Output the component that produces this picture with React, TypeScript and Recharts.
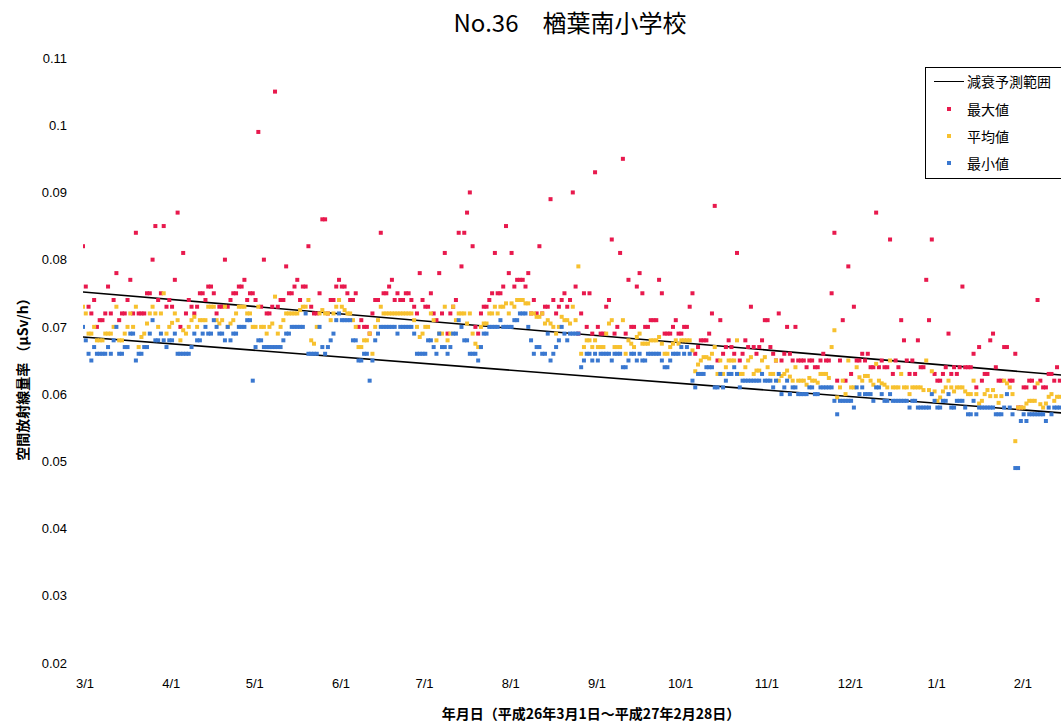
import React from 'react';
import { ScatterChart, Scatter, XAxis, YAxis } from 'recharts';

const titleText = 'No.36\u2003楢葉南小学校';
const xAxisTitle = '年月日（平成26年3月1日～平成27年2月28日）';
const yAxisTitle = '空間放射線量率 （μSv/h）';
const legendNames = ['減衰予測範囲', '最大値', '平均値', '最小値'];

// one value per day, starting 2014-03-01 (day 0)
const maxValues = [
  0.082, 0.076, 0.073, 0.072, 0.074, 0.070, 0.071, 0.071, 0.072, 0.076,
  0.072, 0.074, 0.078, 0.071, 0.072, 0.072, 0.074, 0.077, 0.072, 0.084,
  0.072, 0.072, 0.072, 0.075, 0.075, 0.080, 0.085, 0.074, 0.075, 0.085,
  0.073, 0.074, 0.073, 0.077, 0.087, 0.070, 0.081, 0.072, 0.074, 0.073,
  0.072, 0.073, 0.075, 0.075, 0.074, 0.076, 0.076, 0.075, 0.072, 0.073,
  0.073, 0.080, 0.073, 0.074, 0.075, 0.075, 0.076, 0.076, 0.077, 0.074,
  0.075, 0.075, 0.074, 0.099, 0.073, 0.080, 0.072, 0.072, 0.073, 0.105,
  0.073, 0.074, 0.074, 0.079, 0.075, 0.075, 0.076, 0.077, 0.074, 0.076,
  0.076, 0.082, 0.073, 0.072, 0.072, 0.075, 0.086, 0.086, 0.072, 0.074,
  0.074, 0.076, 0.077, 0.076, 0.076, 0.075, 0.074, 0.074, 0.075, 0.070,
  0.071, 0.070, 0.070, 0.069, 0.072, 0.074, 0.074, 0.084, 0.075, 0.075,
  0.076, 0.077, 0.074, 0.075, 0.074, 0.074, 0.075, 0.075, 0.074, 0.073,
  0.072, 0.078, 0.074, 0.073, 0.073, 0.075, 0.072, 0.071, 0.078, 0.072,
  0.081, 0.069, 0.072, 0.073, 0.074, 0.084, 0.079, 0.084, 0.087, 0.090,
  0.082, 0.070, 0.069, 0.072, 0.073, 0.073, 0.074, 0.075, 0.081, 0.075,
  0.075, 0.076, 0.085, 0.078, 0.081, 0.076, 0.077, 0.077, 0.077, 0.076,
  0.078, 0.072, 0.074, 0.072, 0.082, 0.072, 0.073, 0.073, 0.089, 0.074,
  0.072, 0.073, 0.074, 0.075, 0.073, 0.074, 0.090, 0.076, 0.069, 0.072,
  0.075, 0.070, 0.075, 0.069, 0.093, 0.070, 0.069, 0.069, 0.073, 0.074,
  0.083, 0.069, 0.070, 0.081, 0.095, 0.069, 0.077, 0.070, 0.070, 0.076,
  0.078, 0.075, 0.070, 0.070, 0.071, 0.071, 0.071, 0.077, 0.075, 0.069,
  0.069, 0.069, 0.070, 0.071, 0.069, 0.069, 0.070, 0.070, 0.073, 0.075,
  0.066, 0.067, 0.068, 0.068, 0.068, 0.069, 0.072, 0.088, 0.065, 0.071,
  0.066, 0.067, 0.068, 0.067, 0.066, 0.081, 0.065, 0.066, 0.068, 0.067,
  0.073, 0.067, 0.066, 0.067, 0.068, 0.071, 0.071, 0.067, 0.066, 0.065,
  0.072, 0.065, 0.066, 0.070, 0.066, 0.065, 0.070, 0.065, 0.065, 0.065,
  0.064, 0.065, 0.065, 0.064, 0.064, 0.065, 0.066, 0.065, 0.065, 0.075,
  0.084, 0.062, 0.065, 0.071, 0.062, 0.079, 0.063, 0.073, 0.065, 0.065,
  0.066, 0.065, 0.066, 0.064, 0.064, 0.087, 0.064, 0.065, 0.064, 0.064,
  0.083, 0.063, 0.065, 0.064, 0.071, 0.068, 0.065, 0.063, 0.065, 0.063,
  0.068, 0.064, 0.064, 0.077, 0.071, 0.083, 0.063, 0.062, 0.062, 0.063,
  0.064, 0.069, 0.063, 0.064, 0.063, 0.064, 0.076, 0.064, 0.064, 0.064,
  0.066, 0.061, 0.067, 0.062, 0.063, 0.063, 0.068, 0.069, 0.064, 0.062,
  0.062, 0.067, 0.067, 0.062, 0.062, 0.066, 0.058, 0.058, 0.061, 0.061,
  0.062, 0.062, 0.061, 0.074, 0.062, 0.061, 0.061, 0.063, 0.063, 0.062,
  0.064, 0.062,
];

const avgValues = [
  0.073, 0.072, 0.069, 0.069, 0.070, 0.068, 0.068, 0.068, 0.069, 0.069,
  0.069, 0.070, 0.073, 0.068, 0.068, 0.069, 0.070, 0.072, 0.070, 0.073,
  0.067, 0.0685, 0.069, 0.0705, 0.072, 0.073, 0.072, 0.070, 0.072, 0.075,
  0.069, 0.070, 0.0706, 0.072, 0.071, 0.068, 0.0695, 0.069, 0.070, 0.071,
  0.0715, 0.070, 0.071, 0.071, 0.071, 0.073, 0.073, 0.073, 0.071, 0.0705,
  0.071, 0.073, 0.070, 0.0705, 0.071, 0.072, 0.073, 0.073, 0.073, 0.072,
  0.072, 0.070, 0.070, 0.073, 0.070, 0.070, 0.069, 0.070, 0.0705, 0.0745,
  0.069, 0.070, 0.071, 0.072, 0.072, 0.072, 0.072, 0.072, 0.0725, 0.073,
  0.073, 0.074, 0.068, 0.0675, 0.070, 0.072, 0.0725, 0.072, 0.072, 0.071,
  0.072, 0.073, 0.074, 0.073, 0.0725, 0.072, 0.072, 0.071, 0.070, 0.067,
  0.067, 0.068, 0.068, 0.069, 0.066, 0.070, 0.071, 0.073, 0.072, 0.072,
  0.072, 0.072, 0.072, 0.072, 0.072, 0.072, 0.072, 0.072, 0.072, 0.071,
  0.070, 0.0685, 0.069, 0.070, 0.070, 0.072, 0.071, 0.068, 0.069, 0.069,
  0.073, 0.068, 0.069, 0.073, 0.071, 0.072, 0.072, 0.072, 0.0705, 0.072,
  0.069, 0.0675, 0.067, 0.070, 0.0705, 0.0705, 0.072, 0.072, 0.073, 0.072,
  0.073, 0.073, 0.0735, 0.072, 0.0735, 0.073, 0.074, 0.074, 0.074, 0.0735,
  0.0735, 0.072, 0.072, 0.0715, 0.0715, 0.072, 0.0705, 0.071, 0.0705, 0.070,
  0.069, 0.070, 0.0715, 0.071, 0.071, 0.0705, 0.073, 0.071, 0.079, 0.066,
  0.067, 0.068, 0.068, 0.067, 0.068, 0.067, 0.067, 0.067, 0.069, 0.0705,
  0.071, 0.067, 0.067, 0.067, 0.071, 0.066, 0.068, 0.0675, 0.067, 0.0685,
  0.069, 0.0675, 0.0675, 0.0675, 0.068, 0.068, 0.068, 0.0685, 0.0675, 0.066,
  0.066, 0.067, 0.0675, 0.068, 0.0675, 0.068, 0.068, 0.068, 0.068, 0.0665,
  0.0634, 0.0644, 0.065, 0.0655, 0.0655, 0.0653, 0.066, 0.067, 0.063, 0.065,
  0.063, 0.064, 0.065, 0.065, 0.065, 0.068, 0.063, 0.063, 0.064, 0.065,
  0.0655, 0.063, 0.0635, 0.0635, 0.065, 0.0655, 0.064, 0.063, 0.063, 0.065,
  0.062, 0.0627, 0.063, 0.0635, 0.0626, 0.062, 0.064, 0.062, 0.062, 0.062,
  0.0614, 0.0624, 0.062, 0.062, 0.0617, 0.063, 0.063, 0.063, 0.0624, 0.067,
  0.0695, 0.0595, 0.061, 0.062, 0.060, 0.065, 0.061, 0.061, 0.064, 0.0625,
  0.062, 0.0627, 0.0627, 0.062, 0.0614, 0.0645, 0.062, 0.0616, 0.0614, 0.061,
  0.065, 0.061, 0.061, 0.061, 0.063, 0.061, 0.061, 0.060, 0.061, 0.061,
  0.061, 0.061, 0.0606, 0.065, 0.0606, 0.0634, 0.0604, 0.059, 0.0595, 0.0604,
  0.061, 0.062, 0.061, 0.0604, 0.061, 0.061, 0.061, 0.0604, 0.060, 0.060,
  0.062, 0.060, 0.0586, 0.059, 0.060, 0.0606, 0.0597, 0.0606, 0.0597, 0.0587,
  0.0597, 0.062, 0.0616, 0.061, 0.060, 0.053, 0.058, 0.058, 0.058, 0.0586,
  0.059, 0.059, 0.059, 0.0616, 0.0585, 0.058, 0.0586, 0.0596, 0.060, 0.059,
  0.0596, 0.0596,
];

const minValues = [
  0.070, 0.068, 0.066, 0.065, 0.067, 0.066, 0.066, 0.066, 0.066, 0.067,
  0.066, 0.068, 0.070, 0.066, 0.066, 0.067, 0.067, 0.069, 0.069, 0.065,
  0.066, 0.066, 0.067, 0.067, 0.069, 0.071, 0.068, 0.068, 0.069, 0.068,
  0.067, 0.068, 0.068, 0.069, 0.066, 0.066, 0.066, 0.066, 0.066, 0.067,
  0.069, 0.068, 0.068, 0.069, 0.070, 0.069, 0.069, 0.071, 0.070, 0.069,
  0.069, 0.068, 0.070, 0.068, 0.069, 0.069, 0.070, 0.070, 0.070, 0.071,
  0.071, 0.062, 0.067, 0.068, 0.068, 0.067, 0.067, 0.067, 0.067, 0.067,
  0.067, 0.067, 0.068, 0.069, 0.069, 0.070, 0.070, 0.070, 0.070, 0.070,
  0.072, 0.066, 0.066, 0.066, 0.066, 0.070, 0.067, 0.066, 0.067, 0.068,
  0.069, 0.071, 0.072, 0.071, 0.071, 0.071, 0.071, 0.068, 0.068, 0.065,
  0.065, 0.066, 0.066, 0.062, 0.065, 0.068, 0.069, 0.070, 0.070, 0.070,
  0.070, 0.070, 0.070, 0.069, 0.070, 0.070, 0.070, 0.070, 0.070, 0.069,
  0.066, 0.066, 0.066, 0.066, 0.068, 0.068, 0.067, 0.066, 0.069, 0.067,
  0.067, 0.066, 0.067, 0.069, 0.069, 0.071, 0.070, 0.068, 0.068, 0.066,
  0.066, 0.066, 0.065, 0.067, 0.069, 0.069, 0.070, 0.070, 0.070, 0.070,
  0.071, 0.070, 0.070, 0.070, 0.070, 0.071, 0.071, 0.072, 0.072, 0.072,
  0.070, 0.068, 0.066, 0.067, 0.067, 0.066, 0.066, 0.069, 0.065, 0.066,
  0.067, 0.068, 0.070, 0.069, 0.068, 0.069, 0.069, 0.069, 0.069, 0.064,
  0.065, 0.066, 0.066, 0.065, 0.066, 0.065, 0.066, 0.066, 0.066, 0.066,
  0.065, 0.066, 0.066, 0.066, 0.064, 0.064, 0.065, 0.066, 0.066, 0.065,
  0.066, 0.065, 0.065, 0.066, 0.066, 0.066, 0.066, 0.066, 0.065, 0.064,
  0.064, 0.065, 0.066, 0.066, 0.066, 0.067, 0.066, 0.067, 0.066, 0.062,
  0.061, 0.063, 0.063, 0.063, 0.064, 0.064, 0.064, 0.061, 0.061, 0.063,
  0.061, 0.062, 0.063, 0.063, 0.064, 0.063, 0.061, 0.062, 0.062, 0.062,
  0.062, 0.062, 0.062, 0.062, 0.063, 0.062, 0.062, 0.062, 0.061, 0.062,
  0.063, 0.060, 0.061, 0.062, 0.060, 0.061, 0.061, 0.060, 0.060, 0.060,
  0.060, 0.061, 0.061, 0.060, 0.060, 0.061, 0.061, 0.061, 0.061, 0.061,
  0.059, 0.057, 0.059, 0.059, 0.059, 0.059, 0.059, 0.058, 0.061, 0.060,
  0.061, 0.060, 0.060, 0.060, 0.059, 0.061, 0.061, 0.060, 0.059, 0.059,
  0.060, 0.059, 0.059, 0.059, 0.059, 0.059, 0.059, 0.058, 0.059, 0.059,
  0.058, 0.058, 0.058, 0.058, 0.058, 0.060, 0.059, 0.058, 0.058, 0.059,
  0.059, 0.060, 0.058, 0.058, 0.059, 0.059, 0.059, 0.058, 0.057, 0.057,
  0.059, 0.057, 0.058, 0.058, 0.058, 0.058, 0.058, 0.058, 0.057, 0.057,
  0.057, 0.058, 0.060, 0.058, 0.057, 0.049, 0.049, 0.056, 0.057, 0.056,
  0.057, 0.057, 0.057, 0.057, 0.057, 0.057, 0.056, 0.058, 0.057, 0.058,
  0.058, 0.058,
];

// decay prediction range (start / end of period)
const trendDays = [0, 364];
const upperTrend = [0.0752, 0.0624];
const lowerTrend = [0.0685, 0.0568];

const xTickDays = [0, 31, 61, 92, 122, 153, 184, 214, 245, 275, 306, 337];
const xTickLabels = ['3/1', '4/1', '5/1', '6/1', '7/1', '8/1', '9/1', '10/1', '11/1', '12/1', '1/1', '2/1'];
const yTicks = [0.02, 0.03, 0.04, 0.05, 0.06, 0.07, 0.08, 0.09, 0.1, 0.11];
const yTickLabels = ['0.02', '0.03', '0.04', '0.05', '0.06', '0.07', '0.08', '0.09', '0.1', '0.11'];

const RED = '#e8194d';
const YELLOW = '#f7c12f';
const BLUE = '#3a78d0';

const toPoints = (vals: number[]) => vals.map((v, i) => ({ d: i, v }));
const toTrend = (vals: number[]) => vals.map((v, i) => ({ d: trendDays[i], v }));

const square = (color: string) => (props: any) => {
  const { cx, cy } = props;
  if (cx == null || cy == null || isNaN(cx) || isNaN(cy)) return <g />;
  return <rect x={cx - 2} y={cy - 2} width={4} height={4} fill={color} />;
};
const noShape = () => <g />;

const CJK = '"Noto Sans CJK JP", "Noto Sans", sans-serif';
const NUM = '"Liberation Sans", Arial, sans-serif';

export default function App() {
  const maxData = toPoints(maxValues);
  const avgData = toPoints(avgValues);
  const minData = toPoints(minValues);
  const upperData = toTrend(upperTrend);
  const lowerData = toTrend(lowerTrend);

  const fmtX = (v: number) => {
    const i = xTickDays.indexOf(v);
    return i >= 0 ? xTickLabels[i] : '';
  };
  const fmtY = (v: number) => {
    const i = yTicks.findIndex((t) => Math.abs(t - v) < 1e-9);
    return i >= 0 ? yTickLabels[i] : '';
  };

  return (
    <div style={{ position: 'absolute', left: 0, top: 0, width: 1061, height: 724, overflow: 'hidden', background: '#fff' }}>
      <div style={{ position: 'absolute', left: 0, top: 0 }}>
        <ScatterChart width={1130} height={724} margin={{ top: 58, right: 34, bottom: 0, left: 0 }}>
          <XAxis
            type="number"
            dataKey="d"
            domain={[0, 364]}
            ticks={xTickDays}
            tickFormatter={fmtX}
            axisLine={false}
            tickLine={false}
            tickSize={6}
            tickMargin={10}
            height={61}
            interval={0}
            allowDataOverflow
            tick={{ fill: '#000', fontSize: 13, fontFamily: NUM, dx: 2 }}
          />
          <YAxis
            type="number"
            dataKey="v"
            domain={[0.02, 0.11]}
            ticks={yTicks}
            tickFormatter={fmtY}
            axisLine={false}
            tickLine={false}
            tickSize={6}
            tickMargin={10}
            width={83}
            interval={0}
            allowDataOverflow
            tick={{ fill: '#000', fontSize: 13, fontFamily: NUM }}
          />
          <Scatter name="upper" data={upperData} line={{ stroke: '#000', strokeWidth: 1.6 }} shape={noShape} isAnimationActive={false} />
          <Scatter name="lower" data={lowerData} line={{ stroke: '#000', strokeWidth: 1.6 }} shape={noShape} isAnimationActive={false} />
          <Scatter name="max" data={maxData} shape={square(RED)} isAnimationActive={false} />
          <Scatter name="avg" data={avgData} shape={square(YELLOW)} isAnimationActive={false} />
          <Scatter name="min" data={minData} shape={square(BLUE)} isAnimationActive={false} />
        </ScatterChart>
      </div>

      <div style={{ position: 'absolute', left: 0, width: 1140, top: 5, textAlign: 'center', fontFamily: CJK, fontSize: 24, lineHeight: '34px', color: '#000' }}>
        {titleText}
      </div>

      <div style={{ position: 'absolute', left: 591 - 300, width: 600, top: 702, textAlign: 'center', fontFamily: CJK, fontSize: 14, fontWeight: 'bold', lineHeight: '22px', color: '#000' }}>
        {xAxisTitle}
      </div>

      <div style={{ position: 'absolute', left: 22 - 150, width: 300, top: 376 - 11, height: 22, textAlign: 'center', fontFamily: CJK, fontSize: 14, fontWeight: 'bold', lineHeight: '22px', color: '#000', transform: 'rotate(-90deg)', transformOrigin: '150px 11px' }}>
        {yAxisTitle}
      </div>

      <div style={{ position: 'absolute', left: 925, top: 67, width: 160, height: 110, border: '1.5px solid #000', background: '#fff', fontFamily: CJK, fontSize: 14, color: '#000' }}>
        <div style={{ position: 'absolute', left: 8, top: 13, width: 30, height: 0, borderTop: '1.5px solid #000' }} />
        <div style={{ position: 'absolute', left: 41, top: 3, lineHeight: '20px' }}>{legendNames[0]}</div>
        <div style={{ position: 'absolute', left: 21, top: 39, width: 4, height: 4, background: RED }} />
        <div style={{ position: 'absolute', left: 41, top: 31, lineHeight: '20px' }}>{legendNames[1]}</div>
        <div style={{ position: 'absolute', left: 21, top: 66, width: 4, height: 4, background: YELLOW }} />
        <div style={{ position: 'absolute', left: 41, top: 58, lineHeight: '20px' }}>{legendNames[2]}</div>
        <div style={{ position: 'absolute', left: 21, top: 93, width: 4, height: 4, background: BLUE }} />
        <div style={{ position: 'absolute', left: 41, top: 85, lineHeight: '20px' }}>{legendNames[3]}</div>
      </div>
    </div>
  );
}
